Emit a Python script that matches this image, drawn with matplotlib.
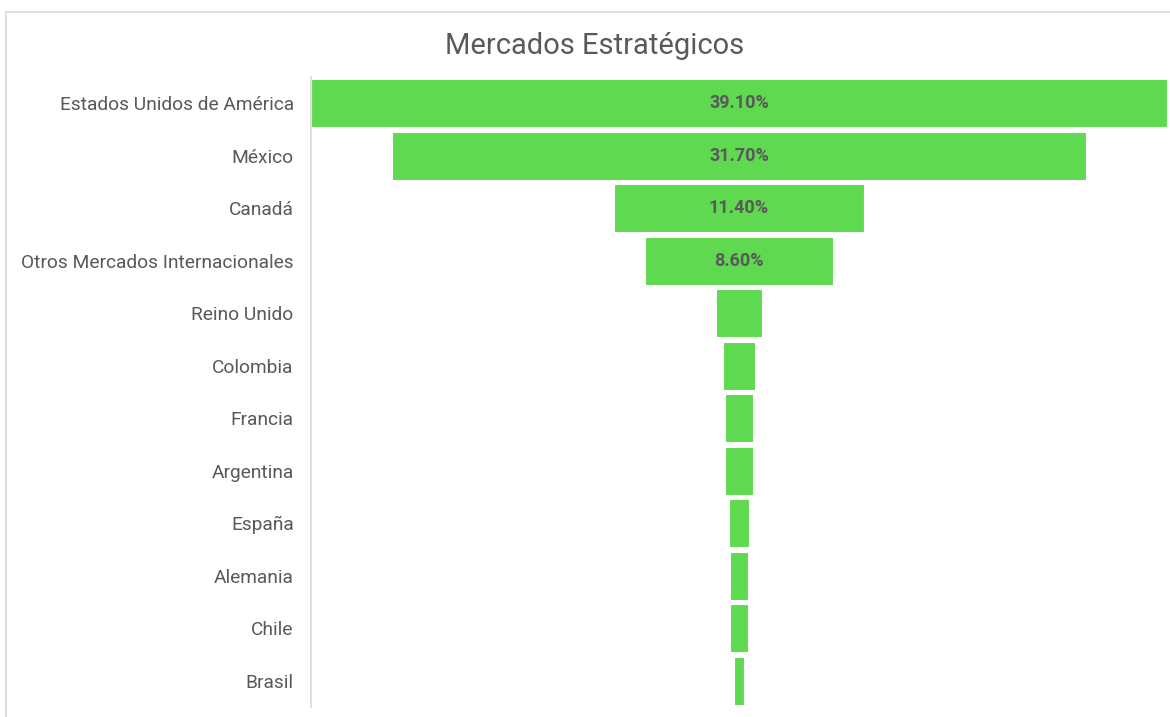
import matplotlib.pyplot as plt
from matplotlib.patches import Rectangle

# market share by country (%)
paises = ['Estados Unidos de América', 'México', 'Canadá', 'Otros Mercados Internacionales',
          'Reino Unido', 'Colombia', 'Francia', 'Argentina', 'España', 'Alemania', 'Chile', 'Brasil']
valores = [39.1, 31.7, 11.4, 8.6, 2.1, 1.5, 1.3, 1.3, 0.9, 0.8, 0.8, 0.5]
etiquetas = ['39.10%', '31.70%', '11.40%', '8.60%', '', '', '', '', '', '', '', '']

verde = '#5fd94f'
gris = '#595959'

plt.rcParams['font.family'] = ['Roboto', 'DejaVu Sans']

fig = plt.figure(figsize=(11.7, 7.17), dpi=100)
fig.patches.append(Rectangle((6 / 1170, -0.1), 1.2, 1 - 12 / 717 + 0.1, transform=fig.transFigure,
                             fill=False, edgecolor='#d9d9d9', linewidth=1.2))

ax = fig.add_axes([311 / 1170, 10 / 717, 856 / 1170, 630 / 717])
y = list(range(len(paises)))
izq = [-v / 2 for v in valores]
ax.barh(y, valores, left=izq, height=0.92, color=verde, edgecolor='white', linewidth=0.8)

for i, t in enumerate(etiquetas):
    if t:
        ax.text(0, i, t, ha='center', va='center', fontsize=13, fontweight='bold', color=gris)

half = max(valores) / 2
ax.set_xlim(-half, half)
ax.set_ylim(len(paises) - 0.5, -0.5)
ax.set_yticks(y)
ax.set_yticklabels(paises, fontsize=13.8, color=gris)
ax.tick_params(axis='y', length=0, pad=12.5)
ax.set_xticks([])
for s in ['top', 'right', 'bottom']:
    ax.spines[s].set_visible(False)
ax.spines['left'].set_color('#d9d9d9')
ax.spines['left'].set_linewidth(1.2)

fig.text(595 / 1170, 1 - 46 / 717, 'Mercados Estratégicos', ha='center', va='center',
         fontsize=21, color=gris)

fig.savefig('out.png', dpi=100)
